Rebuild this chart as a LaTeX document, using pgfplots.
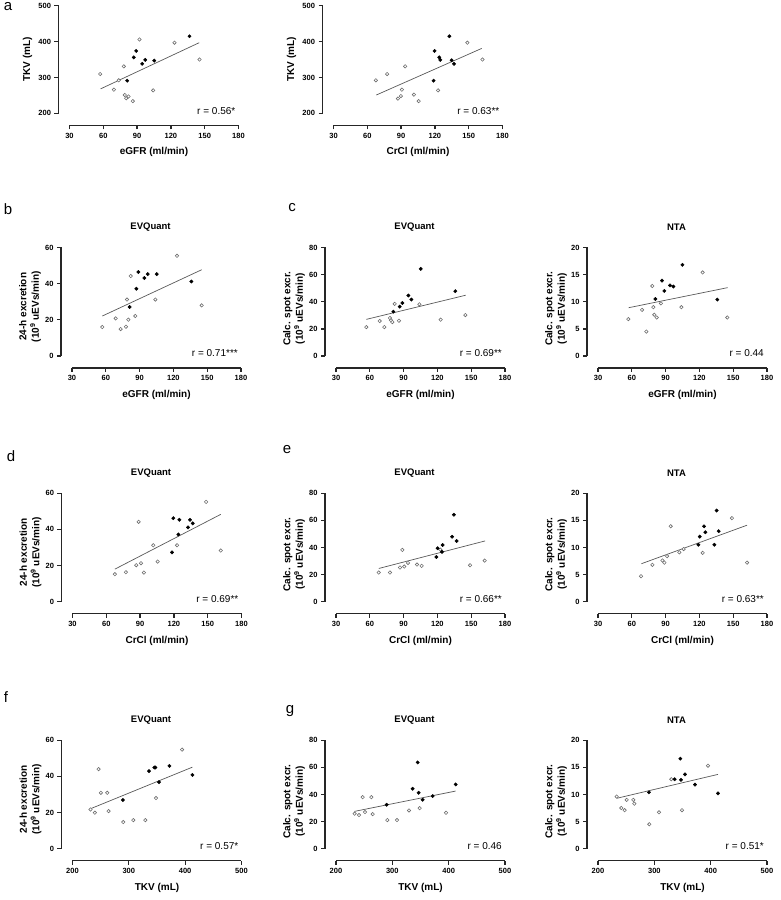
\documentclass[border=0pt]{standalone}
\usepackage{pgfplots}
\pgfplotsset{compat=1.18}
\usepackage{fontspec}
\setmainfont{Liberation Sans}
\definecolor{axc}{HTML}{262626}
\definecolor{opc}{HTML}{6E6E6E}
\definecolor{lnc}{HTML}{595959}
\pgfplotsset{
  panel/.style={
    scale only axis, width=169pt, height=108.5pt,
    axis x line=bottom, axis y line=left,
    axis x line shift=12pt, axis y line shift=11pt,
    axis line style={-, line width=1.3pt, color=axc},
    every tick/.style={line width=1.3pt, color=axc},
    major tick length=4pt, tick align=outside,
    enlargelimits=false, clip=false,
    /pgf/number format/assume math mode=true,
    tick label style={font=\fontsize{7.5}{9}\selectfont\bfseries, color=black},
    xmin=30, xmax=180, xtick={30,60,...,180},
    every axis x label/.style={at={(axis description cs:0.5,0)}, yshift=-39pt, anchor=center, font=\fontsize{10}{12}\selectfont\bfseries},
    every axis y label/.style={at={(axis description cs:0,0.5)}, xshift=-42pt, rotate=90, anchor=center, align=center, font=\fontsize{10}{12.5}\selectfont\bfseries},
    every axis title/.style={at={(axis description cs:0.5,1)}, yshift=20pt, xshift=-6pt, anchor=center, font=\fontsize{9.5}{11}\selectfont\bfseries},
  },
  openpt/.style={only marks, mark=*, mark size=1.7pt, mark options={draw=opc, fill=white, line width=0.6pt}},
  fillpt/.style={only marks, mark=*, mark size=1.7pt, mark options={draw=black, fill=black}},
  regline/.style={no marks, color=lnc, line width=0.7pt},
}
\newcommand{\rlab}[1]{\node[anchor=base east, font=\fontsize{10}{12}\selectfont, inner sep=0pt] at ([xshift=-3pt,yshift=-1pt]rel axis cs:1,0) {#1};}
\begin{document}
\begin{tikzpicture}
\path[use as bounding box] (0pt,0pt) rectangle (780pt,900pt);
\tikzset{lett/.style={font=\fontsize{15}{18}\selectfont, inner sep=0pt}}
\node[lett] at (8pt,893pt) {a};
\node[lett] at (8pt,691pt) {b};
\node[lett] at (292pt,692pt) {c};
\node[lett] at (11pt,444pt) {d};
\node[lett] at (287pt,450pt) {e};
\node[lett] at (6pt,203pt) {f};
\node[lett] at (290pt,189pt) {g};

% ---------- a1 ----------
\begin{axis}[panel, at={(69.5pt,786.7pt)}, anchor=south west, height=107.5pt,
  ymin=200, ymax=500, ytick={200,300,400,500},
  xlabel={eGFR (ml/min)}, ylabel={TKV (mL)}]
\addplot[regline] coordinates {(57.5,268) (145.1,397)};
\addplot[openpt] table {
57.2 309.6
69.4 266
73.7 292
78.2 331
79.1 251
80.3 242
82.4 247
86.2 234
92.1 406
104.3 264
123.2 397
145.4 350
};
\addplot[fillpt] table {
81.2 291
87.1 356
89.2 374
94.5 338
97.2 349
105.2 347
136.5 415
};
\rlab{r = 0.56*}
\end{axis}

% ---------- a2 ----------
\begin{axis}[panel, at={(333.5pt,786.7pt)}, anchor=south west, height=107.5pt,
  ymin=200, ymax=500, ytick={200,300,400,500},
  xlabel={CrCl (ml/min)}, ylabel={TKV (mL)}]
\addplot[regline] coordinates {(68.0,251) (161.5,381)};
\addplot[openpt] table {
67.6 292
77.6 309.6
93.6 331
90.7 266
89.8 248
87.2 241
101.4 252
105.6 234
122.8 264
148.8 397
162.2 350
};
\addplot[fillpt] table {
118.8 291
119.7 374
123.9 356
124.8 349
132.8 415
134.9 348
137.0 338
};
\rlab{r = 0.63**}
\end{axis}

% ---------- b ----------
\begin{axis}[panel, at={(72pt,544pt)}, anchor=south west,
  ymin=0, ymax=60, ytick={0,20,40,60},
  title={EVQuant}, xlabel={eGFR (ml/min)},
  ylabel={24-h excretion\\(10\textsuperscript{9} uEVs/min)},
  every axis y label/.append style={xshift=-5pt}]
\addplot[regline] coordinates {(56.9,22.1) (145.1,47.7)};
\addplot[openpt] table {
56.9 16.0
68.8 20.8
73.2 14.9
77.9 16.2
78.8 31.2
80.0 20.1
82.1 44.2
86.2 22.1
104.0 31.2
123.2 55.4
145.1 28.0
};
\addplot[fillpt] table {
81.2 27.1
87.1 37.2
88.9 46.4
94.2 43.1
97.2 45.3
105.2 45.3
135.9 41.2
};
\rlab{r = 0.71***}
\end{axis}

% ---------- c1 ----------
\begin{axis}[panel, at={(336pt,544pt)}, anchor=south west,
  ymin=0, ymax=80, ytick={0,20,40,60,80},
  title={EVQuant}, xlabel={eGFR (ml/min)},
  ylabel={Calc. spot excr.\\(10\textsuperscript{9} uEVs/min)},
  every axis y label/.append style={xshift=-7pt}]
\addplot[regline] coordinates {(56.9,27.0) (145.1,44.8)};
\addplot[openpt] table {
56.9 21.3
68.8 25.8
72.9 21.3
77.9 28.0
78.8 26.3
80.0 25.0
82.1 38.4
85.9 26.0
104.0 38.1
122.9 26.8
144.8 30.2
};
\addplot[fillpt] table {
80.9 32.7
86.5 36.4
88.9 39.1
94.2 44.6
96.9 41.6
105.2 64.2
135.9 47.8
};
\rlab{r = 0.69**}
\end{axis}

% ---------- c2 ----------
\begin{axis}[panel, at={(598pt,544pt)}, anchor=south west,
  ymin=0, ymax=20, ytick={0,5,10,15,20},
  title={NTA}, xlabel={eGFR (ml/min)},
  ylabel={Calc. spot excr.\\(10\textsuperscript{9} uEVs/min)},
  every axis y label/.append style={xshift=-7pt}]
\addplot[regline] coordinates {(57.2,8.9) (145.1,12.6)};
\addplot[openpt] table {
56.9 6.8
69.1 8.5
72.9 4.5
78.2 12.9
79.1 9.0
80.0 7.6
82.1 7.1
85.9 9.7
104.0 9.0
122.9 15.4
144.8 7.1
};
\addplot[fillpt] table {
80.9 10.5
86.8 13.9
88.9 12.0
93.9 13.0
96.9 12.8
104.9 16.8
135.9 10.4
};
\rlab{r = 0.44}
\end{axis}

% ---------- d ----------
\begin{axis}[panel, at={(72.5pt,298.3pt)}, anchor=south west,
  ymin=0, ymax=60, ytick={0,20,40,60},
  title={EVQuant}, xlabel={CrCl (ml/min)},
  ylabel={24-h excretion\\(10\textsuperscript{9} uEVs/min)},
  every axis y label/.append style={xshift=-5pt}]
\addplot[regline] coordinates {(67.6,18.0) (161.6,48.3)};
\addplot[openpt] table {
67.6 15.2
77.4 16.3
86.6 20.2
88.7 44.2
90.8 21.3
93.4 16.1
101.7 31.2
105.6 22.2
122.8 31.2
148.6 55.2
161.6 28.3
};
\addplot[fillpt] table {
118.3 27.3
119.5 46.2
124.0 37.2
124.8 45.3
132.6 41.1
134.3 45.3
136.7 43.3
};
\rlab{r = 0.69**}
\end{axis}

% ---------- e1 ----------
\begin{axis}[panel, at={(336pt,298.3pt)}, anchor=south west,
  ymin=0, ymax=80, ytick={0,20,40,60,80},
  title={EVQuant}, xlabel={CrCl (ml/min)},
  ylabel={Calc. spot excr.\\(10\textsuperscript{9} uEVs/min)},
  every axis y label/.append style={xshift=-7pt}]
\addplot[regline] coordinates {(68.0,24.5) (162.3,44.8)};
\addplot[openpt] table {
67.9 21.5
77.9 21.5
86.8 25.2
88.9 38.2
90.6 25.9
93.9 28.6
101.9 27.4
106.0 26.4
122.6 38.4
149.0 26.9
162.0 30.3
};
\addplot[fillpt] table {
119.1 33.0
120.2 39.4
124.1 36.7
124.7 41.8
133.0 47.9
134.7 64.1
137.1 44.8
};
\rlab{r = 0.66**}
\end{axis}

% ---------- e2 ----------
\begin{axis}[panel, at={(598pt,298.3pt)}, anchor=south west,
  ymin=0, ymax=20, ytick={0,5,10,15,20},
  title={NTA}, xlabel={CrCl (ml/min)},
  ylabel={Calc. spot excr.\\(10\textsuperscript{9} uEVs/min)},
  every axis y label/.append style={xshift=-7pt}]
\addplot[regline] coordinates {(68.5,7.0) (162.3,14.1)};
\addplot[openpt] table {
68.2 4.7
78.3 6.8
87.2 7.6
88.9 7.2
91.3 8.4
94.5 13.9
102.2 9.1
106.0 9.7
122.9 9.0
148.9 15.4
162.3 7.2
};
\addplot[fillpt] table {
119.1 10.5
120.3 12.0
124.1 13.9
125.3 12.8
133.3 10.5
135.3 16.8
137.1 13.0
};
\rlab{r = 0.63**}
\end{axis}

% ---------- f ----------
\begin{axis}[panel, at={(72.5pt,51.3pt)}, anchor=south west,
  xmin=200, xmax=500, xtick={200,300,400,500},
  ymin=0, ymax=60, ytick={0,20,40,60},
  title={EVQuant}, xlabel={TKV (mL)},
  ylabel={24-h excretion\\(10\textsuperscript{9} uEVs/min)},
  every axis y label/.append style={xshift=-5pt}]
\addplot[regline] coordinates {(232.0,22.1) (412.9,45.1)};
\addplot[openpt] table {
232.0 21.7
239.7 19.9
246.2 44.0
250.4 30.9
261.7 30.9
264.0 20.8
290.1 14.7
307.9 15.8
329.3 15.8
348.2 28.0
394.5 54.8
};
\addplot[fillpt] table {
289.5 26.9
335.8 42.9
345.3 44.9
347.0 44.9
353.6 36.8
372.0 45.8
412.9 40.8
};
\rlab{r = 0.57*}
\end{axis}

% ---------- g1 ----------
\begin{axis}[panel, at={(336pt,51.3pt)}, anchor=south west,
  xmin=200, xmax=500, xtick={200,300,400,500},
  ymin=0, ymax=80, ytick={0,20,40,60,80},
  title={EVQuant}, xlabel={TKV (mL)},
  ylabel={Calc. spot excr.\\(10\textsuperscript{9} uEVs/min)},
  every axis y label/.append style={xshift=-7pt}]
\addplot[regline] coordinates {(232.5,27.5) (412.4,42.5)};
\addplot[openpt] table {
233.1 25.8
240.8 24.8
247.3 38.0
251.5 27.0
262.7 38.0
265.1 25.5
291.1 21.1
308.3 21.1
329.6 28.2
348.5 29.9
395.3 26.5
};
\addplot[fillpt] table {
289.9 32.4
336.1 44.2
345.0 63.6
346.7 41.2
353.8 36.1
371.6 38.8
412.4 47.4
};
\rlab{r = 0.46}
\end{axis}

% ---------- g2 ----------
\begin{axis}[panel, at={(598pt,51.3pt)}, anchor=south west,
  xmin=200, xmax=500, xtick={200,300,400,500},
  ymin=0, ymax=20, ytick={0,5,10,15,20},
  title={NTA}, xlabel={TKV (mL)},
  ylabel={Calc. spot excr.\\(10\textsuperscript{9} uEVs/min)},
  every axis y label/.append style={xshift=-7pt}]
\addplot[regline] coordinates {(233.7,9.3) (413.0,13.7)};
\addplot[openpt] table {
233.1 9.6
241.4 7.5
247.3 7.1
250.9 9.0
262.7 9.0
264.5 8.3
291.1 4.5
308.3 6.7
330.2 12.8
349.1 7.1
395.3 15.3
};
\addplot[fillpt] table {
290.5 10.4
336.1 12.8
346.2 16.6
347.3 12.7
354.4 13.7
372.2 11.8
413.0 10.2
};
\rlab{r = 0.51*}
\end{axis}
\end{tikzpicture}
\end{document}
